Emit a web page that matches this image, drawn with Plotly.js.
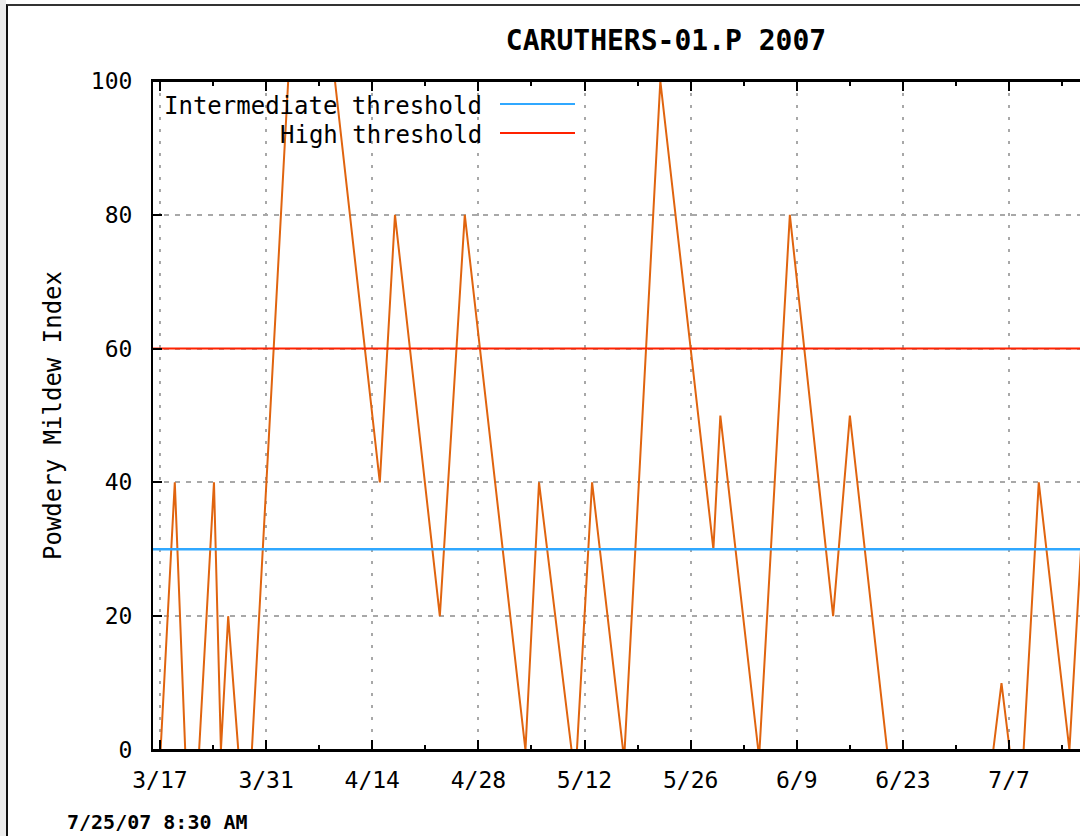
<!DOCTYPE html>
<html>
<head>
<meta charset="utf-8">
<script src="https://cdn.plot.ly/plotly-3.0.1.min.js"></script>
<style>
  html, body { margin: 0; padding: 0; overflow: hidden; background: #ffffff; }
  #chart { position: absolute; left: 0; top: 0; width: 1100px; height: 836px; }
  #leftstrip { position: absolute; left: 0; top: 0; width: 6px; height: 836px; background: #ececec; }
  #frame { position: absolute; left: 6px; top: 4px; width: 1100px; height: 840px;
           border-left: 2px solid #111; border-top: 2px solid #333; pointer-events: none; }
</style>
</head>
<body>
<div id="chart"></div>
<div id="leftstrip"></div>
<div id="frame"></div>
<script>
// Powdery Mildew Index readings (turning points)
const dates = [
  '2007-03-17 02:00', '2007-03-18 23:00', '2007-03-20 08:00', '2007-03-22 04:00',
  '2007-03-24 03:00', '2007-03-25 01:00', '2007-03-26 00:00', '2007-03-27 08:00',
  '2007-03-29 03:00', '2007-04-02 22:00', '2007-04-09 02:00', '2007-04-15 00:00',
  '2007-04-17 00:00', '2007-04-22 22:00', '2007-04-26 05:00', '2007-05-04 05:00',
  '2007-05-06 00:00', '2007-05-10 07:00', '2007-05-11 00:00', '2007-05-13 00:00',
  '2007-05-17 02:00', '2007-05-17 07:00', '2007-05-22 00:00', '2007-05-29 00:00',
  '2007-05-29 22:00', '2007-06-03 22:00', '2007-06-04 02:00', '2007-06-08 02:00',
  '2007-06-13 19:00', '2007-06-16 00:00', '2007-06-20 22:00', '2007-07-04 22:00',
  '2007-07-06 00:00', '2007-07-07 02:00', '2007-07-08 22:00', '2007-07-10 22:00',
  '2007-07-14 23:00', '2007-07-17 00:00'
];
const pmi = [
  0, 40, 0, 0,
  40, 0, 20, 0,
  0, 100, 100, 40,
  80, 20, 80, 0,
  40, 0, 0, 40,
  0, 0, 100, 30,
  50, 0, 0, 80,
  20, 50, 0, 0,
  10, 0, 0, 40,
  0, 40
];

const thresholdNames = ['Intermediate threshold', 'High threshold'];
const thresholdValues = [30, 60];

const tickDates = ['2007-03-17', '2007-03-31', '2007-04-14', '2007-04-28', '2007-05-12',
                   '2007-05-26', '2007-06-09', '2007-06-23', '2007-07-07'];
const tickLabels = ['3/17', '3/31', '4/14', '4/28', '5/12', '5/26', '6/9', '6/23', '7/7'];
const yTicks = [0, 20, 40, 60, 80, 100];

const xRange = ['2007-03-16 02:00', '2007-07-18 08:00'];
const chartTitle = 'CARUTHERS-01.P 2007';
const yTitle = 'Powdery Mildew Index';
const stamp = '7/25/07 8:30 AM';

const MONO = '"DejaVu Sans Mono", "Liberation Mono", monospace';
const DAY = 86400000;

// plot area geometry in pixels
const W = 1100, H = 836, L = 153, T = 81, B = 750, R = 1095;
const px = (x) => (x - L) / (R - L);
const py = (y) => 1 - (y - T) / (B - T);

const thresholdColors = ['#30a8ff', '#ff2200'];

const traces = [
  {
    x: dates, y: pmi, type: 'scatter', mode: 'lines',
    line: { color: '#e0640f', width: 2 },
    showlegend: false, hoverinfo: 'x+y'
  }
];
thresholdValues.forEach((v, i) => {
  traces.push({
    x: xRange, y: [v, v], type: 'scatter', mode: 'lines',
    name: thresholdNames[i],
    line: { color: thresholdColors[i], width: i === 0 ? 2.5 : 2 },
    showlegend: false
  });
});

const legendTextY = [106, 135];
const legendLineY = [104, 133];

const annotations = [
  {
    text: stamp, xref: 'paper', yref: 'paper', x: px(65), y: py(822),
    xanchor: 'left', yanchor: 'middle', showarrow: false,
    font: { family: MONO, size: 20, color: '#000', weight: 'bold' }
  }
];
// frame edges drawn over the traces (bottom and top of the plot box)
const shapes = [
  { type: 'line', xref: 'paper', yref: 'paper', x0: 0, x1: 1, y0: 0, y1: 0,
    line: { color: '#000', width: 2 }, layer: 'above' },
  { type: 'line', xref: 'paper', yref: 'paper', x0: 0, x1: 1, y0: 1, y1: 1,
    line: { color: '#000', width: 2 }, layer: 'above' }
];
thresholdNames.forEach((n, i) => {
  annotations.push({
    text: n, xref: 'paper', yref: 'paper', x: px(484), y: py(legendTextY[i]),
    xanchor: 'right', yanchor: 'middle', showarrow: false,
    font: { family: MONO, size: 24, color: '#000' }
  });
  shapes.push({
    type: 'line', xref: 'paper', yref: 'paper',
    x0: px(500), x1: px(575), y0: py(legendLineY[i]), y1: py(legendLineY[i]),
    line: { color: thresholdColors[i], width: 2 }
  });
});

const layout = {
  width: W, height: H,
  margin: { l: L, r: W - R, t: T, b: H - B, pad: 0 },
  paper_bgcolor: '#ffffff', plot_bgcolor: '#ffffff',
  font: { family: MONO, size: 23, color: '#000' },
  title: {
    text: chartTitle, xref: 'container', yref: 'container',
    x: 666 / W, y: 1 - 40 / H, xanchor: 'center', yanchor: 'middle',
    font: { family: MONO, size: 28, color: '#000', weight: 'bold' }
  },
  xaxis: {
    type: 'date', range: xRange,
    tickmode: 'array', tickvals: tickDates, ticktext: tickLabels,
    ticks: 'inside', ticklen: 10, tickwidth: 2, tickcolor: '#000',
    showline: true, linecolor: '#000', linewidth: 2, mirror: 'ticks',
    showgrid: true, gridcolor: '#a8a8a8', gridwidth: 2, griddash: '3px,9px',
    zeroline: false, ticklabelstandoff: 8,
    tickfont: { family: MONO, size: 23, color: '#000' },
    minor: { tickmode: 'linear', tick0: '2007-03-24', dtick: 14 * DAY,
             ticks: 'inside', ticklen: 5, tickwidth: 2, tickcolor: '#000', showgrid: false },
    fixedrange: true
  },
  yaxis: {
    range: [0, 100], tickmode: 'array', tickvals: yTicks,
    ticks: 'inside', ticklen: 9, tickwidth: 2, tickcolor: '#000',
    showline: true, linecolor: '#000', linewidth: 2, mirror: 'ticks',
    showgrid: true, gridcolor: '#a8a8a8', gridwidth: 2, griddash: '5px,6px',
    zeroline: false, ticklabelstandoff: 14,
    tickfont: { family: MONO, size: 23, color: '#000' },
    title: { text: yTitle, standoff: 22, font: { family: MONO, size: 24, color: '#000' } },
    fixedrange: true
  },
  annotations: annotations,
  shapes: shapes,
  showlegend: false
};

Plotly.newPlot('chart', traces, layout, { displayModeBar: false, staticPlot: true });
</script>
</body>
</html>
